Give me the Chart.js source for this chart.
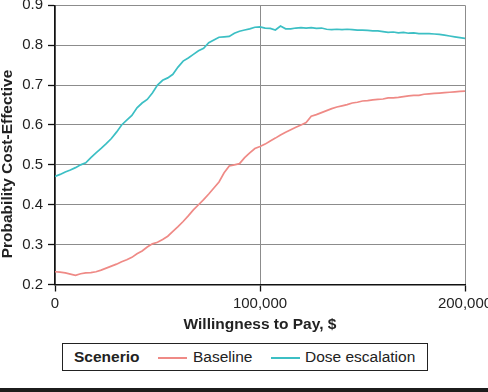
<!DOCTYPE html>
<html>
<head>
<meta charset="utf-8">
<script src="https://cdn.jsdelivr.net/npm/chart.js@4.4.1/dist/chart.umd.min.js"></script>
<style>
  html, body { margin: 0; padding: 0; background: #fff; overflow: hidden; }
  body { width: 488px; height: 392px; position: relative; font-family: "Liberation Sans", Arial, sans-serif; }
  #wrap { position: absolute; left: 0; top: 0; width: 488px; height: 340px; }
  #legend { position: absolute; left: 62px; top: 343px; width: 366px; height: 28px; box-sizing: border-box; border: 1.5px solid #222; color: #222; font-size: 15.5px; }
  #legend span { position: absolute; top: 50%; transform: translateY(-50%); white-space: nowrap; }
  #legend i { position: absolute; top: 13px; height: 2px; width: 29px; }
  #bar { position: absolute; left: 0; top: 388px; width: 488px; height: 4px; background: #1c1c1c; }
</style>
</head>
<body>
<div id="wrap"><canvas id="c"></canvas></div>
<div id="legend">
  <span style="left:11px;font-weight:bold;">Scenerio</span>
  <i style="left:95px;background:#ef8a86;"></i>
  <span style="left:130px;">Baseline</span>
  <i style="left:208px;background:#3cbfc4;"></i>
  <span style="left:242px;">Dose escalation</span>
</div>
<div id="bar"></div>
<script>
const wtp = [];
for (let i = 0; i <= 80; i++) wtp.push(i * 2500);

const yTicks = [0.2, 0.3, 0.4, 0.5, 0.6, 0.7, 0.8, 0.9];
const xTicks = [0, 100000, 200000];

const baseline = [
  0.232, 0.231, 0.229, 0.226, 0.223, 0.227, 0.229, 0.230, 0.232, 0.236,
  0.241, 0.246, 0.251, 0.257, 0.262, 0.268, 0.277, 0.284, 0.294, 0.302,
  0.306, 0.313, 0.321, 0.333, 0.345, 0.358, 0.372, 0.387, 0.400, 0.413,
  0.427, 0.442, 0.457, 0.480, 0.497, 0.500, 0.503, 0.518, 0.530, 0.541,
  0.546, 0.552, 0.560, 0.567, 0.575, 0.582, 0.588, 0.594, 0.600, 0.606,
  0.622, 0.626, 0.631, 0.636, 0.641, 0.645, 0.648, 0.651, 0.655, 0.657,
  0.660, 0.661, 0.663, 0.664, 0.665, 0.668, 0.668, 0.669, 0.671, 0.673,
  0.674, 0.674, 0.677, 0.678, 0.679, 0.680, 0.681, 0.682, 0.683, 0.684,
  0.685
];

const doseEscalation = [
  0.471, 0.476, 0.482, 0.487, 0.493, 0.500, 0.505, 0.518, 0.530, 0.541,
  0.553, 0.566, 0.582, 0.600, 0.612, 0.624, 0.643, 0.655, 0.664, 0.680,
  0.700, 0.712, 0.718, 0.727, 0.745, 0.760, 0.768, 0.777, 0.786, 0.792,
  0.806, 0.813, 0.820, 0.821, 0.822, 0.830, 0.835, 0.838, 0.841, 0.845,
  0.846, 0.843, 0.842, 0.838, 0.848, 0.841, 0.841, 0.843, 0.844, 0.843,
  0.844, 0.842, 0.843, 0.840, 0.839, 0.840, 0.839, 0.840, 0.839, 0.838,
  0.838, 0.837, 0.836, 0.836, 0.834, 0.832, 0.833, 0.831, 0.832, 0.830,
  0.831, 0.829, 0.829, 0.829, 0.828, 0.827, 0.825, 0.823, 0.821, 0.819,
  0.817
];

const seriesNames = ["Baseline", "Dose escalation"];
const yTitle = "Probability Cost-Effective";
const xTitle = "Willingness to Pay, $";

const FONT = "'Liberation Sans', Arial, sans-serif";

const yTitlePlugin = {
  id: 'yTitle',
  afterDraw(chart) {
    const ctx = chart.ctx;
    ctx.save();
    ctx.translate(8, 164);
    ctx.rotate(-Math.PI / 2);
    ctx.font = "bold 15.5px " + FONT;
    ctx.fillStyle = '#222';
    ctx.textAlign = 'center';
    ctx.textBaseline = 'middle';
    ctx.fillText(yTitle, 0, 0);
    ctx.restore();
  }
};

new Chart(document.getElementById('c'), {
  type: 'line',
  data: {
    datasets: [
      { label: seriesNames[0], data: wtp.map((x, i) => ({ x, y: baseline[i] })), borderColor: '#ef8a86', borderWidth: 1.7, pointRadius: 0, tension: 0 },
      { label: seriesNames[1], data: wtp.map((x, i) => ({ x, y: doseEscalation[i] })), borderColor: '#3cbfc4', borderWidth: 1.7, pointRadius: 0, tension: 0 }
    ]
  },
  options: {
    responsive: true,
    maintainAspectRatio: false,
    animation: false,
    layout: { padding: { top: 5.3, right: 23, bottom: 0, left: 0 } },
    plugins: { legend: { display: false }, tooltip: { enabled: false } },
    scales: {
      x: {
        type: 'linear',
        min: 0, max: 200000,
        afterBuildTicks(s) { s.ticks = xTicks.map(v => ({ value: v })); },
        afterFit(s) { s.height = 55.5; s.paddingLeft = 0; s.paddingRight = 0; },
        grid: { color: '#8c8c8c', lineWidth: 1, tickColor: '#111', tickLength: 7, tickWidth: 1.3 },
        border: { color: '#111', width: 1.5 },
        ticks: {
          color: '#222', font: { size: 15, family: FONT }, padding: 3, maxRotation: 0, autoSkip: false,
          callback: v => v.toLocaleString('en-US')
        },
        title: { display: true, text: xTitle, color: '#222', font: { size: 15.5, weight: 'bold', family: FONT }, padding: { top: 0, bottom: 6 } }
      },
      y: {
        min: 0.2, max: 0.9,
        afterBuildTicks(s) { s.ticks = yTicks.map(v => ({ value: v })); },
        afterFit(s) { s.width = 55; s.paddingTop = 0; s.paddingBottom = 0; },
        grid: { color: '#8c8c8c', lineWidth: 1, tickColor: '#111', tickLength: 7, tickWidth: 1.3 },
        border: { color: '#111', width: 1.5 },
        ticks: {
          color: '#222', font: { size: 15, family: FONT }, padding: 5, autoSkip: false,
          callback: v => v.toFixed(1)
        }
      }
    }
  },
  plugins: [yTitlePlugin]
});
</script>
</body>
</html>
